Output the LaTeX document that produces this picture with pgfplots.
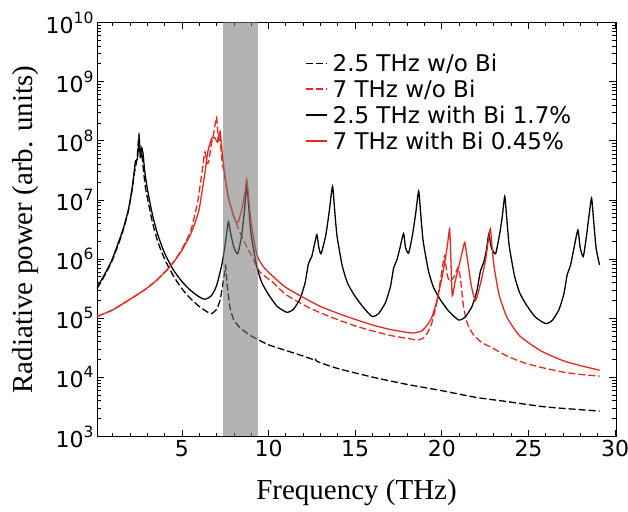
\documentclass[border=0pt]{standalone}
\usepackage{pgfplots}
\pgfplotsset{compat=1.18}
\usepackage{fontspec}
\setmainfont{DejaVu Sans}
\newfontfamily\labelfont{Liberation Serif}
\definecolor{myred}{RGB}{232,40,30}
\newcommand{\tp}[1]{10\raisebox{0.45em}{\fontsize{15.5}{15.5}\selectfont #1}}
\begin{document}
\begin{tikzpicture}
\useasboundingbox (-97pt,-74.5pt) rectangle (531pt,436.5pt);
\begin{axis}[
  at={(0pt,0pt)}, anchor=south west,
  scale only axis, width=519pt, height=414pt,
  xmin=0.1, xmax=30.05, ymin=1e3, ymax=1e10, ymode=log,
  xtick={5,10,15,20,25,30},
  minor xtick={1,...,29},
  ytick={1e3,1e4,1e5,1e6,1e7,1e8,1e9,1e10},
  yticklabels={\tp{3},\tp{4},\tp{5},\tp{6},\tp{7},\tp{8},\tp{9},\tp{10}},
  /pgf/number format/assume math mode=true,
  ticklabel style={font=\fontsize{22}{22}\selectfont},
  major tick length=7pt, minor tick length=4pt,
  tick style={black, line width=0.8pt},
  axis line style={line width=0.9pt},
  xlabel={Frequency (THz)},
  ylabel={Radiative power (arb. units)},
  label style={font=\labelfont\fontsize{29}{29}\selectfont},
  xlabel style={yshift=-16pt},
  legend style={at={(0.401,0.93)}, anchor=north west, draw=none, fill=none,
    font=\fontsize{23}{23}\selectfont, row sep=3pt, inner sep=0pt,
    nodes={inner xsep=5pt}},
  legend cell align=left,
  legend image code/.code={\draw[#1] (0pt,0pt) -- (21pt,0pt);},
  every axis plot/.append style={line width=1.3pt, smooth, tension=0.35},
]
% 2.5 THz w/o Bi
\addplot[black, dash pattern=on 7pt off 3pt] coordinates {
(0.1,3.16e5) (0.5,5.01e5) (0.94,8.91e5) (1.3,1.66e6) (1.6,3.02e6) (1.9,6.31e6)
(2.1,1.32e7) (2.25,2.82e7) (2.32,3.55e7) (2.42,5.25e7) (2.52,1.23e8) (2.6,5.25e7)
(2.68,6.31e7) (2.78,3.16e7) (2.9,1.58e7) (3.0,1.12e7) (3.3,4.17e6) (3.6,2.0e6)
(4.0,1.0e6) (4.5,5.25e5) (5.0,3.16e5) (5.5,2.14e5) (6.0,1.58e5) (6.5,1.26e5)
(6.72,1.20e5) (7.0,1.41e5) (7.2,2.0e5) (7.35,3.55e5) (7.45,5.62e5) (7.52,7.76e5)
(7.6,3.98e5) (7.68,2.40e5) (7.8,1.41e5) (8.0,9.33e4) (8.35,6.92e4) (9.0,5.01e4)
(10.0,3.55e4) (11.05,2.82e4) (12.0,2.29e4) (12.59,2.0e4) (12.7,2.09e4) (12.8,1.86e4)
(14.0,1.41e4) (16.06,1.0e4) (18.0,7.59e3) (19.9,6.03e3) (22.0,4.57e3) (23.77,3.89e3)
(26.0,3.16e3) (29.1,2.69e3)
};
\addlegendentry{2.5 THz w/o Bi}
% 7 THz w/o Bi
\addplot[myred, dash pattern=on 7pt off 3pt] coordinates {
(0.1,1.07e5) (1.0,1.38e5) (1.9,2.0e5) (2.8,2.95e5) (3.5,4.27e5) (4.12,6.46e5)
(4.6,9.55e5) (5.0,1.48e6) (5.5,2.95e6) (5.9,8.91e6) (6.15,2.82e7) (6.33,6.46e7)
(6.45,4.17e7) (6.55,4.47e7) (6.7,8.91e7) (6.85,1.41e8) (7.0,2.51e8) (7.1,1.0e8)
(7.18,1.26e8) (7.3,5.01e7) (7.49,2.24e7) (7.7,1.05e7) (8.06,4.68e6) (8.5,2.24e6)
(9.03,1.12e6) (9.5,6.03e5) (10.28,3.98e5) (11.0,2.51e5) (12.2,1.58e5) (13.0,1.23e5)
(14.13,9.12e4) (15.0,7.41e4) (16.06,6.03e4) (17.0,5.13e4) (18.0,4.57e4) (18.6,4.27e4)
(18.9,4.57e4) (19.1,5.25e4) (19.4,7.94e4) (19.7,1.78e5) (19.95,5.01e5) (20.08,8.91e5)
(20.16,1.15e6) (20.3,5.62e5) (20.45,4.17e5) (20.7,5.01e5) (20.9,6.92e5) (20.97,7.24e5)
(21.1,3.98e5) (21.25,1.58e5) (21.46,8.32e4) (21.8,5.37e4) (22.3,3.89e4) (22.9,3.16e4)
(23.77,2.29e4) (24.7,1.78e4) (25.7,1.48e4) (27.0,1.23e4) (28.0,1.12e4) (29.1,1.05e4)
};
\addlegendentry{7 THz w/o Bi}
% 2.5 THz with Bi
\addplot[black] coordinates {
(0.1,3.31e5) (0.5,5.25e5) (0.94,9.33e5) (1.3,1.78e6) (1.6,3.16e6) (1.9,6.61e6)
(2.1,1.41e7) (2.25,3.02e7) (2.32,4.57e7) (2.42,4.79e7) (2.48,7.08e7) (2.53,1.12e8)
(2.6,5.62e7) (2.68,7.59e7) (2.75,6.31e7) (2.85,3.16e7) (3.0,1.58e7) (3.3,5.62e6)
(3.6,2.63e6) (4.0,1.26e6) (4.5,6.61e5) (5.0,4.17e5) (5.5,2.95e5) (6.0,2.29e5)
(6.33,2.09e5) (6.7,2.40e5) (7.0,3.55e5) (7.3,7.94e5) (7.5,1.78e6) (7.68,4.27e6)
(7.8,2.82e6) (8.0,1.58e6) (8.22,1.23e6) (8.45,2.51e6) (8.6,6.31e6) (8.74,1.74e7)
(8.85,7.76e6) (9.0,2.51e6) (9.3,7.94e5) (9.6,4.07e5) (10.0,2.51e5) (10.5,1.58e5)
(11.05,1.26e5) (11.43,1.41e5) (11.82,2.14e5) (12.11,3.98e5) (12.3,8.32e5) (12.5,1.12e6)
(12.65,1.78e6) (12.79,2.57e6) (12.9,1.58e6) (13.03,1.23e6) (13.3,2.51e6) (13.5,6.31e6)
(13.69,1.70e7) (13.8,7.59e6) (13.95,2.45e6) (14.25,7.76e5) (14.55,3.98e5) (14.95,2.45e5)
(15.45,1.55e5) (15.97,1.07e5) (16.35,1.20e5) (16.74,1.82e5) (17.03,3.39e5) (17.22,7.08e5)
(17.4,9.55e5) (17.55,1.41e6) (17.79,2.69e6) (17.9,1.58e6) (18.08,1.26e6) (18.3,2.51e6)
(18.48,5.62e6) (18.66,1.41e7) (18.77,6.31e6) (18.92,2.04e6) (19.22,6.46e5) (19.52,3.31e5)
(19.92,2.04e5) (20.42,1.29e5) (20.97,9.33e4) (21.35,1.05e5) (21.74,1.58e5) (22.03,2.95e5)
(22.22,6.17e5) (22.42,8.91e5) (22.57,1.41e6) (22.71,2.63e6) (22.85,1.58e6) (23.1,1.23e6)
(23.35,2.82e6) (23.5,5.62e6) (23.63,1.15e7) (23.74,5.13e6) (23.89,1.66e6) (24.19,5.25e5)
(24.49,2.69e5) (24.89,1.66e5) (25.39,1.05e5) (25.98,8.13e4) (26.36,9.12e4) (26.75,1.38e5)
(27.04,2.57e5) (27.23,5.37e5) (27.43,7.94e5) (27.6,1.41e6) (27.85,3.09e6) (27.98,1.58e6)
(28.16,1.10e6) (28.35,2.51e6) (28.5,5.62e6) (28.64,1.07e7) (28.75,4.79e6) (28.9,1.55e6)
(29.1,7.94e5)
};
\addlegendentry{2.5 THz with Bi 1.7\%}
% 7 THz with Bi
\addplot[myred] coordinates {
(0.1,1.07e5) (1.0,1.38e5) (1.9,2.0e5) (2.8,2.95e5) (3.5,4.27e5) (4.12,6.46e5)
(4.6,9.55e5) (5.0,1.41e6) (5.5,2.63e6) (5.8,4.47e6) (6.0,7.08e6) (6.3,2.51e7)
(6.5,6.61e7) (6.72,1.10e8) (6.9,1.12e8) (7.05,9.55e7) (7.2,1.45e8) (7.35,5.25e7)
(7.5,2.40e7) (7.7,1.05e7) (8.06,4.57e6) (8.25,4.27e6) (8.5,7.94e6) (8.65,1.41e7)
(8.74,2.24e7) (8.85,1.12e7) (9.0,3.98e6) (9.32,1.20e6) (9.7,7.41e5) (10.28,5.01e5)
(11.0,3.31e5) (12.2,2.09e5) (13.0,1.58e5) (14.13,1.17e5) (15.0,9.55e4) (16.06,7.59e4)
(17.0,6.46e4) (18.0,5.75e4) (18.4,5.62e4) (18.8,6.03e4) (19.04,6.92e4) (19.4,1.0e5)
(19.7,1.91e5) (20.0,4.79e5) (20.2,1.0e6) (20.35,2.0e6) (20.45,3.24e6) (20.52,1.0e6)
(20.6,2.40e5) (20.75,3.98e5) (21.0,7.94e5) (21.2,1.41e6) (21.32,1.91e6) (21.45,1.12e6)
(21.7,3.55e5) (21.94,2.0e5) (22.2,3.55e5) (22.5,8.91e5) (22.7,2.24e6) (22.8,3.24e6)
(22.9,1.58e6) (23.0,7.94e5) (23.3,2.51e5) (23.77,1.02e5) (24.5,5.01e4) (25.7,2.82e4)
(27.0,1.91e4) (28.0,1.58e4) (29.1,1.32e4)
};
\addlegendentry{7 THz with Bi 0.45\%}
% shaded band
\addplot[draw=none, fill=black!53, fill opacity=0.565, forget plot, sharp plot]
  coordinates {(7.37,1e3) (9.37,1e3) (9.37,1e10) (7.37,1e10)} -- cycle;
\end{axis}
\end{tikzpicture}
\end{document}
